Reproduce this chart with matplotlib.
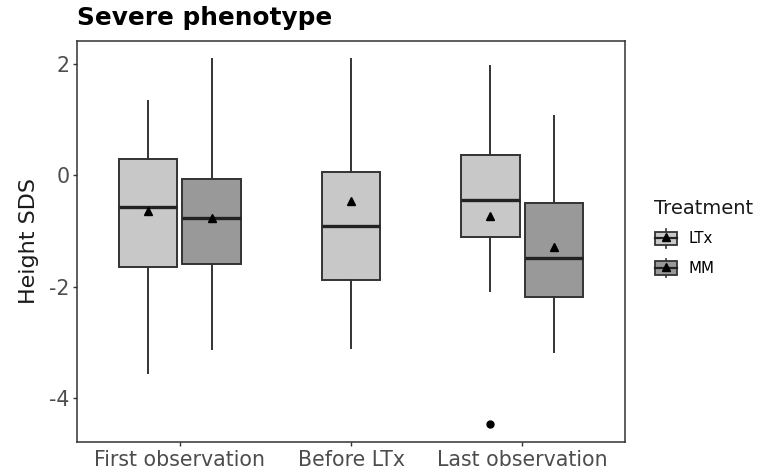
import matplotlib

matplotlib.use("Agg")

import matplotlib.pyplot as plt  # noqa: E402
from matplotlib.legend_handler import HandlerBase  # noqa: E402
from matplotlib.lines import Line2D  # noqa: E402
from matplotlib.patches import Patch, Rectangle  # noqa: E402

# Height SDS summary per time point and treatment
timepoints = ["First observation", "Before LTx", "Last observation"]
treatments = ["LTx", "MM"]

# (timepoint index, treatment) for each box, in drawing order
box_time = [0, 0, 1, 2, 2]
box_treat = ["LTx", "MM", "LTx", "LTx", "MM"]

whisker_low = [-3.56, -3.12, -3.11, -2.07, -3.17]
q1 = [-1.64, -1.59, -1.89, -1.11, -2.19]
median = [-0.57, -0.76, -0.91, -0.44, -1.49]
q3 = [0.30, -0.06, 0.05, 0.37, -0.50]
whisker_high = [1.33, 2.09, 2.09, 1.97, 1.06]
mean = [-0.65, -0.76, -0.47, -0.73, -1.28]
outliers = [[], [], [], [-4.47], []]

fills = {"LTx": "#c8c8c8", "MM": "#999999"}
edge = "#333333"

fig = plt.figure(figsize=(7.65, 4.71), dpi=100)
W, H = 765, 471
ax = fig.add_axes([77 / W, 1 - 442 / H, (625 - 77) / W, (442 - 41) / H])

# dodge offset for two-treatment groups; the single box sits centred
dodge = 0.186
counts = {t: box_time.count(t) for t in set(box_time)}
for i in range(len(median)):
    t = box_time[i]
    if counts[t] == 2:
        pos = t + 1 + (-dodge if box_treat[i] == "LTx" else dodge)
    else:
        pos = t + 1
    stats = [{
        "whislo": whisker_low[i], "q1": q1[i], "med": median[i], "q3": q3[i],
        "whishi": whisker_high[i], "mean": mean[i], "fliers": outliers[i],
    }]
    ax.bxp(
        stats, positions=[pos], widths=0.343, patch_artist=True,
        showmeans=True, showcaps=False, manage_ticks=False,
        boxprops=dict(facecolor=fills[box_treat[i]], edgecolor=edge, linewidth=1.4),
        medianprops=dict(color="#222222", linewidth=2.4),
        whiskerprops=dict(color=edge, linewidth=1.4),
        meanprops=dict(marker="^", markerfacecolor="black", markeredgecolor="black",
                       markersize=6),
        flierprops=dict(marker="o", markerfacecolor="black", markeredgecolor="black",
                        markersize=5),
    )

ax.set_xlim(0.4, 3.6)
ax.set_ylim(-4.79, 2.41)
ax.set_xticks([1, 2, 3])
ax.set_xticklabels(timepoints)
ax.set_yticks([2, 0, -2, -4])
ax.set_yticklabels(["2", "0", "-2", "-4"])
ax.tick_params(axis="both", labelsize=14.8, colors="#333333", labelcolor="#4d4d4d",
               length=3, width=1, pad=2.5)
for s in ax.spines.values():
    s.set_color("#333333")
    s.set_linewidth(1.1)

ax.set_ylabel("Height SDS", fontsize=16, color="#1a1a1a")
ax.yaxis.set_label_coords(-0.07, 0.5)
fig.text(77 / W, 1 - 17.5 / H, "Severe phenotype", fontsize=17.8, fontweight="bold",
         ha="left", va="center")


class BoxKey(HandlerBase):
    """Legend key drawn as a tiny boxplot with mean marker."""

    def create_artists(self, legend, orig_handle, xdescent, ydescent,
                       width, height, fontsize, trans):
        x0, y0 = -xdescent, -ydescent
        cx, cy = x0 + width / 2, y0 + height / 2
        bh = height * 0.72
        whisk = Line2D([cx, cx], [y0, y0 + height], color=edge, lw=1.2,
                       transform=trans)
        box = Rectangle((x0 + 1, cy - bh / 2), width - 2, bh,
                        facecolor=orig_handle.get_facecolor(), edgecolor=edge,
                        lw=1.3, transform=trans)
        med = Line2D([x0 + 1, x0 + width - 1], [cy, cy], color="#222222", lw=1.6,
                     transform=trans)
        tri = Line2D([cx], [cy + 1], marker="^", color="black", markersize=6,
                     transform=trans)
        return [whisk, box, med, tri]


handles = [Patch(facecolor=fills[t]) for t in treatments]
leg = fig.legend(
    handles, treatments, loc="upper left",
    bbox_to_anchor=(654 / W, 1 - 199 / H), frameon=False, fontsize=10.8,
    handler_map={Patch: BoxKey()}, handlelength=1.6, handleheight=1.5,
    handletextpad=0.7, labelspacing=0.75, borderpad=0, borderaxespad=0,
    title="Treatment", title_fontsize=14, alignment="left",
)
leg.get_title().set_color("#1a1a1a")

fig.savefig("out.png", dpi=100)
